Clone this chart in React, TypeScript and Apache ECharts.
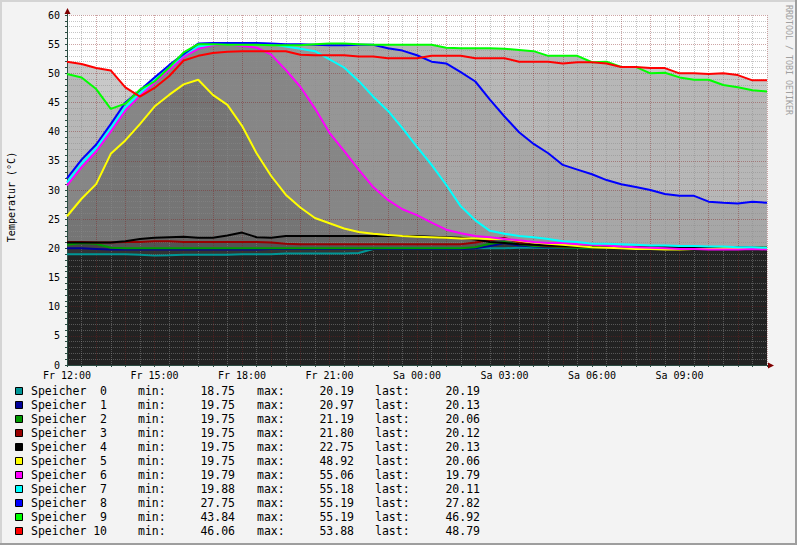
import React, { useEffect, useRef } from 'react';
import * as echarts from 'echarts';

// hours since Fr 12:00
const hours = [0, 0.5, 1, 1.5, 2, 2.5, 3, 3.5, 4, 4.5, 5, 5.5, 6, 6.5, 7, 7.5, 8, 8.5, 9, 9.5, 10, 10.5, 11, 11.5, 12,
  12.5, 13, 13.5, 14, 14.5, 15, 15.5, 16, 16.5, 17, 17.5, 18, 18.5, 19, 19.5, 20, 20.5, 21, 21.5, 22, 22.5, 23, 23.5, 24];

const s0 = [19.0, 19.0, 19.0, 19.0, 19.0, 18.9, 18.75, 18.8, 18.9, 18.9, 18.9, 18.9, 19.0, 19.0, 19.0, 19.1, 19.1, 19.1, 19.1, 19.1,
  19.2, 19.9, 20.0, 20.0, 20.0, 20.0, 20.0, 20.0, 20.0, 20.0, 20.0, 20.1, 20.1, 20.1, 20.1, 20.1, 20.1, 20.1, 20.1, 20.1,
  20.1, 20.2, 20.2, 20.2, 20.2, 20.2, 20.2, 20.2, 20.2];
const s1 = [20.0, 20.0, 19.9, 19.8, 19.8, 19.8, 19.8, 19.8, 19.8, 19.8, 19.8, 19.8, 19.8, 19.8, 19.9, 19.9, 19.9, 19.9, 19.9, 19.9,
  19.9, 19.9, 19.9, 19.9, 19.9, 19.9, 19.9, 19.9, 20.0, 20.4, 20.9, 20.5, 20.3, 20.2, 20.2, 20.2, 20.1, 20.1, 20.1, 20.1,
  20.1, 20.1, 20.1, 20.1, 20.1, 20.1, 20.1, 20.1, 20.1];
const s2 = [20.6, 20.9, 20.8, 20.1, 20.0, 20.0, 20.0, 20.0, 20.0, 20.0, 20.0, 20.0, 20.0, 20.0, 20.0, 20.0, 20.0, 20.0, 20.0, 20.0,
  20.0, 20.0, 20.0, 20.0, 20.0, 20.0, 20.0, 20.0, 20.2, 20.8, 21.1, 20.7, 20.4, 20.3, 20.2, 20.1, 20.1, 20.1, 20.1, 20.1,
  20.1, 20.0, 20.0, 20.0, 20.0, 20.1, 20.1, 20.1, 20.1];
const s3 = [21.1, 21.1, 21.0, 21.0, 21.1, 21.1, 21.2, 21.2, 21.1, 21.1, 21.1, 21.1, 21.1, 21.1, 21.0, 20.8, 20.7, 20.7, 20.7, 20.7,
  20.7, 20.7, 20.7, 20.7, 20.7, 20.7, 20.7, 20.7, 21.0, 21.4, 21.8, 21.0, 20.6, 20.4, 20.3, 20.3, 20.2, 20.2, 20.2, 20.2,
  20.2, 20.2, 20.2, 20.2, 20.2, 20.2, 20.1, 20.1, 20.1];
const s4 = [21.0, 21.0, 21.0, 21.0, 21.2, 21.6, 21.8, 21.9, 22.0, 21.8, 21.8, 22.2, 22.7, 21.9, 21.8, 22.1, 22.1, 22.1, 22.1, 22.1,
  22.1, 22.1, 22.1, 22.1, 22.1, 22.0, 21.9, 21.8, 21.5, 21.1, 20.9, 20.7, 20.6, 20.5, 20.4, 20.3, 20.3, 20.2, 20.2, 20.2,
  20.2, 20.2, 20.2, 20.2, 20.2, 20.2, 20.1, 20.1, 20.1];
const s5 = [25.5, 28.5, 31.0, 36.2, 38.5, 41.3, 44.3, 46.3, 48.1, 48.9, 46.3, 44.6, 41.0, 36.3, 32.4, 29.2, 27.0, 25.2, 24.3, 23.4,
  22.8, 22.5, 22.3, 22.1, 22.0, 21.9, 21.8, 21.7, 21.7, 21.6, 21.6, 21.3, 21.0, 20.8, 20.6, 20.4, 20.2, 20.1, 20.0, 19.9,
  19.9, 19.8, 19.8, 19.9, 19.9, 20.0, 20.0, 20.1, 20.1];
const s6 = [30.8, 33.9, 36.6, 40.0, 43.6, 46.2, 48.4, 50.6, 52.8, 54.2, 54.8, 55.0, 54.7, 54.4, 53.2, 50.6, 47.7, 44.0, 39.8, 36.7,
  33.5, 30.5, 28.3, 26.7, 25.7, 24.4, 23.2, 22.6, 22.1, 21.9, 21.6, 21.4, 21.1, 20.9, 20.9, 20.7, 20.6, 20.5, 20.3, 20.2,
  20.1, 20.0, 19.9, 19.9, 19.8, 19.8, 19.8, 19.9, 19.8];
const s7 = [31.3, 34.5, 37.2, 40.6, 44.2, 46.6, 48.8, 51.0, 53.2, 54.6, 55.0, 55.1, 55.2, 55.1, 55.0, 54.6, 54.2, 53.8, 52.4, 51.0,
  48.7, 46.0, 43.6, 40.6, 37.4, 34.3, 30.9, 27.2, 24.8, 23.0, 22.5, 22.1, 21.9, 21.6, 21.2, 21.1, 20.8, 20.8, 20.7, 20.6,
  20.5, 20.5, 20.4, 20.4, 20.3, 20.3, 20.2, 20.2, 20.1];
const s8 = [32.0, 35.2, 37.8, 41.3, 45.0, 47.1, 49.3, 51.4, 53.3, 55.1, 55.2, 55.2, 55.2, 55.2, 55.1, 55.0, 55.0, 54.9, 54.8, 54.8,
  54.9, 54.9, 54.3, 53.9, 53.1, 52.0, 51.7, 50.2, 48.6, 45.5, 42.6, 39.9, 37.9, 36.3, 34.3, 33.5, 32.7, 31.7, 31.0, 30.5,
  30.0, 29.3, 29.0, 29.0, 28.0, 27.8, 27.7, 28.0, 27.8];
const s9 = [49.9, 49.3, 47.3, 43.9, 44.8, 47.2, 48.6, 51.0, 53.6, 55.0, 55.0, 54.9, 54.9, 54.9, 54.8, 54.8, 54.8, 55.0, 55.1, 55.1,
  55.0, 54.9, 54.9, 54.9, 54.9, 54.9, 54.4, 54.3, 54.3, 54.3, 54.2, 54.0, 53.8, 53.0, 53.0, 53.0, 51.9, 52.0, 51.1, 51.1,
  50.0, 50.1, 49.3, 48.9, 48.9, 48.0, 47.6, 47.1, 46.9];
const s10 = [52.0, 51.6, 50.9, 50.5, 47.6, 46.0, 47.5, 49.5, 52.2, 53.0, 53.5, 53.7, 53.8, 53.8, 53.8, 53.8, 53.2, 53.1, 53.1, 53.1,
  52.9, 52.9, 52.6, 52.6, 52.6, 53.0, 53.0, 53.0, 52.6, 52.6, 52.6, 52.0, 52.0, 52.0, 51.7, 51.9, 51.9, 51.7, 51.1, 51.1,
  50.9, 50.9, 50.0, 50.0, 49.9, 50.0, 49.7, 48.8, 48.8];

const seriesValues = [s0, s1, s2, s3, s4, s5, s6, s7, s8, s9, s10];
const seriesNumbers = ['0', '1', '2', '3', '4', '5', '6', '7', '8', '9', '10'];
const lineColors = ['#009696', '#000099', '#009900', '#990000', '#000000', '#ffff00', '#ff00ff', '#00ffff', '#0000ff', '#00ff00', '#ff0000'];
const areaColors = ['#222222', '#333333', '#434343', '#545454', '#646464', '#757575', '#868686', '#969696', '#a7a7a7', '#b7b7b7', '#c8c8c8'];
const minVals = ['18.75', '19.75', '19.75', '19.75', '19.75', '19.75', '19.79', '19.88', '27.75', '43.84', '46.06'];
const maxVals = ['20.19', '20.97', '21.19', '21.80', '22.75', '48.92', '55.06', '55.18', '55.19', '55.19', '53.88'];
const lastVals = ['20.19', '20.13', '20.06', '20.12', '20.13', '20.06', '19.79', '20.11', '27.82', '46.92', '48.79'];

const MONO = 'DejaVu Sans Mono';

function fmtX(v: number): string {
  if (v % 3 !== 0 || v >= 24) return '';
  const h = (12 + v) % 24;
  const day = v < 12 ? 'Fr' : 'Sa';
  return `${day} ${String(h).padStart(2, '0')}:00`;
}

function buildOption() {
  const areaSeries: any[] = [];
  for (let i = seriesValues.length - 1; i >= 0; i--) {
    areaSeries.push({
      type: 'line',
      name: 'area' + i,
      data: hours.map((h, k) => [h, seriesValues[i][k]]),
      symbol: 'none',
      showSymbol: false,
      lineStyle: { width: 0, opacity: 0 },
      areaStyle: { color: areaColors[i], opacity: 1 },
      z: 2,
      silent: true,
    });
  }
  const lineSeries: any[] = seriesValues.map((vals, i) => ({
    type: 'line',
    name: 'line' + i,
    data: hours.map((h, k) => [h, vals[k]]),
    symbol: 'none',
    showSymbol: false,
    lineStyle: { width: 2, color: lineColors[i] },
    z: 20,
    silent: true,
  }));

  const graphic: any[] = [];
  // frame
  graphic.push({ type: 'rect', shape: { x: 0, y: 0, width: 797, height: 2 }, style: { fill: '#d4d4d4' }, silent: true });
  graphic.push({ type: 'rect', shape: { x: 0, y: 0, width: 2, height: 545 }, style: { fill: '#d4d4d4' }, silent: true });
  graphic.push({ type: 'rect', shape: { x: 0, y: 543, width: 797, height: 2 }, style: { fill: '#9e9e9e' }, silent: true });
  graphic.push({ type: 'rect', shape: { x: 795, y: 0, width: 2, height: 545 }, style: { fill: '#9e9e9e' }, silent: true });
  // axis extensions and arrows
  graphic.push({ type: 'line', shape: { x1: 67.5, y1: 15, x2: 67.5, y2: 10 }, style: { stroke: '#2c4d43', lineWidth: 1 }, silent: true });
  graphic.push({ type: 'polygon', shape: { points: [[64.5, 14], [70.5, 14], [67.5, 8]] }, style: { fill: '#7f0000' }, silent: true });
  graphic.push({ type: 'line', shape: { x1: 767, y1: 365.5, x2: 770, y2: 365.5 }, style: { stroke: '#2c4d43', lineWidth: 1 }, silent: true });
  graphic.push({ type: 'polygon', shape: { points: [[768, 362.5], [768, 368.5], [774, 365.5]] }, style: { fill: '#7f0000' }, silent: true });
  // y title
  graphic.push({
    type: 'text', x: 11, y: 197, rotation: Math.PI / 2, silent: true,
    style: { text: 'Temperatur (°C)', fontFamily: MONO, fontSize: 10, fill: '#000', align: 'center', verticalAlign: 'middle' },
  });
  // watermark
  graphic.push({
    type: 'text', x: 789, y: 60, rotation: -Math.PI / 2, silent: true,
    style: { text: 'RRDTOOL / TOBI OETIKER', fontFamily: MONO, fontSize: 8.3, fill: '#a0a0a0', align: 'center', verticalAlign: 'middle' },
  });
  // legend
  seriesNumbers.forEach((num, i) => {
    const yc = 391 + 14 * i;
    const ts = { fontFamily: MONO, fontSize: 11.5, fill: '#000', verticalAlign: 'middle' };
    graphic.push({ type: 'rect', shape: { x: 15.5, y: yc - 3.5, width: 7, height: 7 }, style: { fill: lineColors[i], stroke: '#000', lineWidth: 1 }, silent: true });
    graphic.push({ type: 'text', x: 31, y: yc, silent: true, style: { ...ts, text: 'Speicher', align: 'left' } });
    graphic.push({ type: 'text', x: 107, y: yc, silent: true, style: { ...ts, text: num, align: 'right' } });
    graphic.push({ type: 'text', x: 138, y: yc, silent: true, style: { ...ts, text: 'min:', align: 'left' } });
    graphic.push({ type: 'text', x: 235, y: yc, silent: true, style: { ...ts, text: minVals[i], align: 'right' } });
    graphic.push({ type: 'text', x: 257, y: yc, silent: true, style: { ...ts, text: 'max:', align: 'left' } });
    graphic.push({ type: 'text', x: 354, y: yc, silent: true, style: { ...ts, text: maxVals[i], align: 'right' } });
    graphic.push({ type: 'text', x: 375, y: yc, silent: true, style: { ...ts, text: 'last:', align: 'left' } });
    graphic.push({ type: 'text', x: 480, y: yc, silent: true, style: { ...ts, text: lastVals[i], align: 'right' } });
  });

  const majorGrid = { show: true, lineStyle: { color: 'rgba(130,30,30,0.4)', width: 1, type: [1, 1] } };
  const minorGrid = { show: true, lineStyle: { color: 'rgba(140,140,140,0.5)', width: 1, type: [1, 1] } };

  return {
    animation: false,
    backgroundColor: '#f3f3f3',
    textStyle: { fontFamily: MONO },
    grid: {
      left: 67, top: 15, width: 700, height: 350,
      show: true, backgroundColor: '#ffffff', borderWidth: 0,
      containLabel: false, outerBoundsMode: 'none',
    },
    xAxis: {
      type: 'value', min: 0, max: 24, interval: 1, z: 10,
      axisLine: { show: true, onZero: false, lineStyle: { color: '#2c4d43', width: 1 } },
      axisTick: { show: true, length: 2, lineStyle: { color: '#2c4d43' } },
      minorTick: { show: true, splitNumber: 2, length: 2, lineStyle: { color: '#2c4d43' } },
      axisLabel: { formatter: fmtX, fontFamily: MONO, fontSize: 10, color: '#000', margin: 5, showMaxLabel: false },
      splitLine: majorGrid,
      minorSplitLine: minorGrid,
    },
    yAxis: {
      type: 'value', min: 0, max: 60, interval: 5, z: 10,
      axisLine: { show: true, onZero: false, lineStyle: { color: '#2c4d43', width: 1 } },
      axisTick: { show: true, length: 2, lineStyle: { color: '#2c4d43' } },
      minorTick: { show: true, splitNumber: 5, length: 2, lineStyle: { color: '#2c4d43' } },
      axisLabel: { fontFamily: MONO, fontSize: 10, color: '#000', margin: 7 },
      splitLine: majorGrid,
      minorSplitLine: minorGrid,
    },
    series: [...areaSeries, ...lineSeries],
    graphic,
  };
}

export default function App() {
  const ref = useRef<HTMLDivElement>(null);
  useEffect(() => {
    if (!ref.current) return;
    const chart = echarts.init(ref.current, null, { renderer: 'svg', width: 797, height: 545 });
    chart.setOption(buildOption() as any);
    return () => chart.dispose();
  }, []);
  return <div ref={ref} style={{ position: 'fixed', left: 0, top: 0, width: 797, height: 545 }} />;
}
